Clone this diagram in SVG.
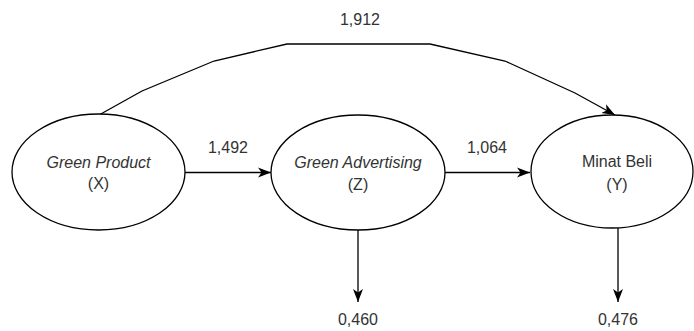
<svg xmlns="http://www.w3.org/2000/svg" width="694" height="331" viewBox="0 0 694 331">
<defs>
<style>
.node{fill:#fff;stroke:#000;stroke-width:1.3}
.edge{fill:none;stroke:#000;stroke-width:1.3}
text{font-family:"Liberation Sans",Arial,sans-serif;font-size:16px;fill:#333;text-anchor:middle}
.it{font-style:italic}
</style>
<marker id="arr" markerUnits="userSpaceOnUse" markerWidth="14" markerHeight="12" refX="13" refY="5" orient="auto" viewBox="0 0 14 10">
<path d="M0,0 L13,5 L0,10 L3.5,5 Z" fill="#000"/>
</marker>
</defs>
<g id="connectors">
<line class="edge" x1="185" y1="172.5" x2="271" y2="172.5" marker-end="url(#arr)"/>
<line class="edge" x1="445" y1="172.5" x2="530" y2="172.5" marker-end="url(#arr)"/>
<polyline class="edge" points="99,115 142,91 214,61 287,44 430,44 505,61 575,93 615,115" marker-end="url(#arr)"/>
<line class="edge" x1="358" y1="230" x2="358" y2="302" marker-end="url(#arr)"/>
<line class="edge" x1="618" y1="228" x2="618" y2="302" marker-end="url(#arr)"/>
<text x="228" y="153">1,492</text>
<text x="487" y="153">1,064</text>
<text x="360" y="25">1,912</text>
<text x="358" y="325">0,460</text>
<text x="618" y="325">0,476</text>
</g>
<g id="nodeX">
<ellipse class="node" cx="98.5" cy="172" rx="86.5" ry="58"/>
<text x="98.5" y="168" class="it">Green Product</text>
<text x="98.5" y="189">(X)</text>
</g>
<g id="nodeZ">
<ellipse class="node" cx="358" cy="172.5" rx="87" ry="57.5"/>
<text x="358" y="168" class="it">Green Advertising</text>
<text x="358" y="190">(Z)</text>
</g>
<g id="nodeY">
<ellipse class="node" cx="612" cy="171.5" rx="81" ry="56.5"/>
<text x="617" y="167">Minat Beli</text>
<text x="617" y="190">(Y)</text>
</g>
</svg>
